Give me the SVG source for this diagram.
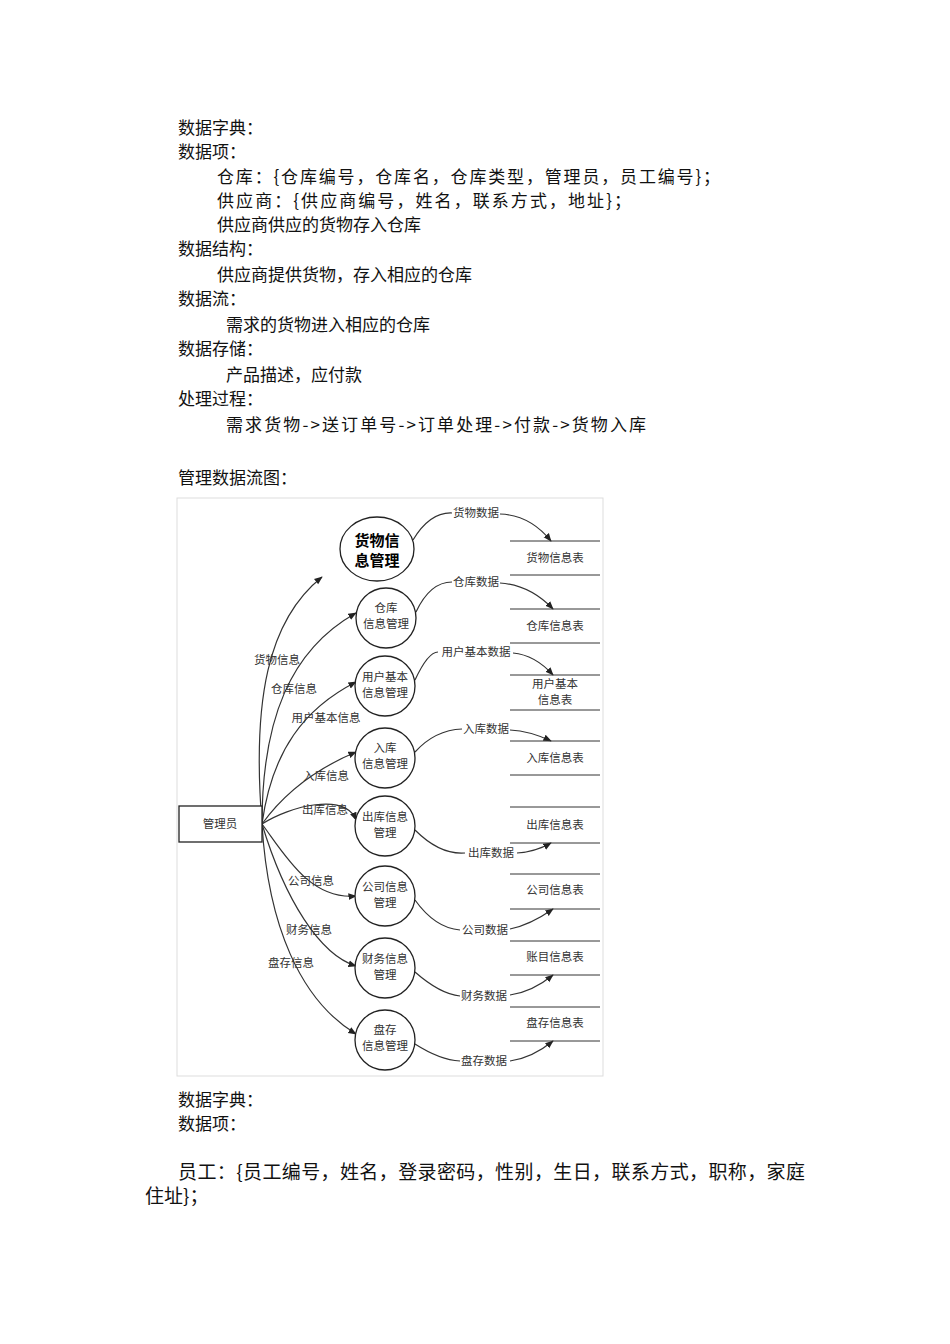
<svg xmlns="http://www.w3.org/2000/svg" width="950" height="1344" viewBox="0 0 950 1344">
<style>
.t{font-family:"Noto Sans CJK SC","Noto Sans",sans-serif;font-size:17px;fill:#111}
.s{font-family:"Noto Sans CJK SC","Noto Sans",sans-serif;font-size:11.5px;fill:#333}
.c{fill:#fff;stroke:#222;stroke-width:1.3}
.l{stroke:#333;stroke-width:1.2;fill:none}
.f{fill:none;stroke:#333;stroke-width:1}
</style>
<defs><marker id="a" viewBox="0 0 10 10" refX="9" refY="5" markerWidth="7" markerHeight="7" orient="auto"><path d="M0,1L10,5L0,9z" fill="#222"/></marker></defs>
<rect width="950" height="1344" fill="#fff"/>
<g id="text">
<text class="t" x="178" y="134">数据字典：</text>
<text class="t" x="178" y="158">数据项：</text>
<text class="t" x="217" y="183" textLength="503">仓库：{仓库编号，仓库名，仓库类型，管理员，员工编号}；</text>
<text class="t" x="217" y="207" textLength="414">供应商：{供应商编号，姓名，联系方式，地址}；</text>
<text class="t" x="217" y="231">供应商供应的货物存入仓库</text>
<text class="t" x="178" y="255">数据结构：</text>
<text class="t" x="217" y="281">供应商提供货物，存入相应的仓库</text>
<text class="t" x="178" y="305">数据流：</text>
<text class="t" x="226" y="331">需求的货物进入相应的仓库</text>
<text class="t" x="178" y="355">数据存储：</text>
<text class="t" x="226" y="381">产品描述，应付款</text>
<text class="t" x="178" y="405">处理过程：</text>
<text class="t" x="226" y="431" textLength="420">需求货物-&gt;送订单号-&gt;订单处理-&gt;付款-&gt;货物入库</text>
<text class="t" x="178" y="484">管理数据流图：</text>
<text class="t" x="178" y="1106">数据字典：</text>
<text class="t" x="178" y="1130">数据项：</text>
<text class="t" x="178" y="1179" style="font-size:19px" textLength="627">员工：{员工编号，姓名，登录密码，性别，生日，联系方式，职称，家庭</text>
<text class="t" x="145" y="1203" style="font-size:19px">住址}；</text>
</g>
<rect x="177" y="498" width="426" height="578" fill="none" stroke="#ddd"/>
<g id="connectors">
<path class="l" d="M262,824 C252,700 268,620 322,577" marker-end="url(#a)"/>
<path class="l" d="M262,824 C262,720 290,650 356,613" marker-end="url(#a)"/>
<path class="l" d="M262,824 C272,750 305,708 356,682" marker-end="url(#a)"/>
<path class="l" d="M262,824 C285,792 318,768 356,752" marker-end="url(#a)"/>
<path class="l" d="M262,824 C290,806 345,792 356,820" marker-end="url(#a)"/>
<path class="l" d="M262,824 C285,855 310,900 356,896" marker-end="url(#a)"/>
<path class="l" d="M262,824 C285,900 320,955 356,966" marker-end="url(#a)"/>
<path class="l" d="M262,824 C268,925 300,1000 356,1034" marker-end="url(#a)"/>
<path class="l" d="M413,540 Q430,512 452,513"/><path class="l" d="M500,514 Q530,515 551,541" marker-end="url(#a)"/>
<path class="l" d="M416,612 Q430,582 452,582"/><path class="l" d="M500,583 Q530,585 553,609" marker-end="url(#a)"/>
<path class="l" d="M415,680 Q428,652 438,652"/><path class="l" d="M513,653 Q535,655 553,675" marker-end="url(#a)"/>
<path class="l" d="M415,752 Q435,730 462,729"/><path class="l" d="M510,730 Q530,731 551,741" marker-end="url(#a)"/>
<path class="l" d="M415,830 Q440,855 465,853"/><path class="l" d="M517,853 Q535,852 551,843" marker-end="url(#a)"/>
<path class="l" d="M415,900 Q435,928 460,930"/><path class="l" d="M510,929 Q530,925 553,909" marker-end="url(#a)"/>
<path class="l" d="M415,972 Q440,994 460,996"/><path class="l" d="M510,995 Q532,992 553,975" marker-end="url(#a)"/>
<path class="l" d="M415,1044 Q440,1060 460,1061"/><path class="l" d="M510,1061 Q532,1058 553,1041" marker-end="url(#a)"/>
</g>
<g id="labels" class="s">
<text class="s" x="277" y="664" text-anchor="middle">货物信息</text>
<text class="s" x="294" y="693" text-anchor="middle">仓库信息</text>
<text class="s" x="326" y="722" text-anchor="middle">用户基本信息</text>
<text class="s" x="326" y="780" text-anchor="middle">入库信息</text>
<text class="s" x="325" y="814" text-anchor="middle">出库信息</text>
<text class="s" x="311" y="885" text-anchor="middle">公司信息</text>
<text class="s" x="309" y="934" text-anchor="middle">财务信息</text>
<text class="s" x="291" y="967" text-anchor="middle">盘存信息</text>
<text class="s" x="476" y="517" text-anchor="middle">货物数据</text>
<text class="s" x="476" y="586" text-anchor="middle">仓库数据</text>
<text class="s" x="476" y="656" text-anchor="middle">用户基本数据</text>
<text class="s" x="486" y="733" text-anchor="middle">入库数据</text>
<text class="s" x="491" y="857" text-anchor="middle">出库数据</text>
<text class="s" x="485" y="934" text-anchor="middle">公司数据</text>
<text class="s" x="484" y="1000" text-anchor="middle">财务数据</text>
<text class="s" x="484" y="1065" text-anchor="middle">盘存数据</text>
</g>
<g id="admin"><rect x="179" y="806" width="83" height="36" class="c"/><text class="s" x="220" y="828" text-anchor="middle">管理员</text></g>
<g id="p1"><ellipse cx="377" cy="549" rx="37" ry="32" class="c" stroke-width="2"/><text class="s" x="377" y="546" text-anchor="middle" style="font-size:15px;font-weight:bold;fill:#000">货物信</text><text class="s" x="377" y="566" text-anchor="middle" style="font-size:15px;font-weight:bold;fill:#000">息管理</text></g>
<g id="p2"><circle cx="386" cy="618" r="30" class="c"/><text class="s" x="386" y="612" text-anchor="middle">仓库</text><text class="s" x="386" y="628" text-anchor="middle">信息管理</text></g>
<g id="p3"><circle cx="385" cy="686" r="30" class="c"/><text class="s" x="385" y="681" text-anchor="middle">用户基本</text><text class="s" x="385" y="697" text-anchor="middle">信息管理</text></g>
<g id="p4"><circle cx="385" cy="758" r="30" class="c"/><text class="s" x="385" y="752" text-anchor="middle">入库</text><text class="s" x="385" y="768" text-anchor="middle">信息管理</text></g>
<g id="p5"><circle cx="385" cy="826" r="30" class="c"/><text class="s" x="385" y="821" text-anchor="middle">出库信息</text><text class="s" x="385" y="837" text-anchor="middle">管理</text></g>
<g id="p6"><circle cx="385" cy="896" r="30" class="c"/><text class="s" x="385" y="891" text-anchor="middle">公司信息</text><text class="s" x="385" y="907" text-anchor="middle">管理</text></g>
<g id="p7"><circle cx="385" cy="968" r="30" class="c"/><text class="s" x="385" y="963" text-anchor="middle">财务信息</text><text class="s" x="385" y="979" text-anchor="middle">管理</text></g>
<g id="p8"><circle cx="385" cy="1040" r="30" class="c"/><text class="s" x="385" y="1034" text-anchor="middle">盘存</text><text class="s" x="385" y="1050" text-anchor="middle">信息管理</text></g>
<g id="stores">
<g id="d1"><path class="f" d="M510,541H600M510,575H600"/><text class="s" x="555" y="562" text-anchor="middle">货物信息表</text></g>
<g id="d2"><path class="f" d="M510,609H600M510,643H600"/><text class="s" x="555" y="630" text-anchor="middle">仓库信息表</text></g>
<g id="d3"><path class="f" d="M510,675H600M510,710H600"/><text class="s" x="555" y="688" text-anchor="middle">用户基本</text><text class="s" x="555" y="704" text-anchor="middle">信息表</text></g>
<g id="d4"><path class="f" d="M510,741H600M510,775H600"/><text class="s" x="555" y="762" text-anchor="middle">入库信息表</text></g>
<g id="d5"><path class="f" d="M510,807H600M510,843H600"/><text class="s" x="555" y="829" text-anchor="middle">出库信息表</text></g>
<g id="d6"><path class="f" d="M510,874H600M510,909H600"/><text class="s" x="555" y="894" text-anchor="middle">公司信息表</text></g>
<g id="d7"><path class="f" d="M510,941H600M510,975H600"/><text class="s" x="555" y="961" text-anchor="middle">账目信息表</text></g>
<g id="d8"><path class="f" d="M510,1007H600M510,1041H600"/><text class="s" x="555" y="1027" text-anchor="middle">盘存信息表</text></g>
</g>
</svg>
